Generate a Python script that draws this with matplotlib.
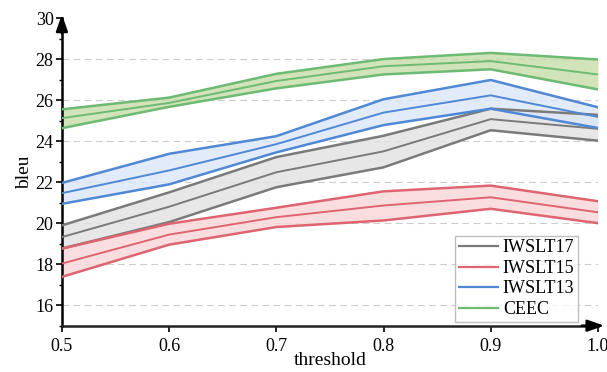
import matplotlib
matplotlib.use("Agg")
import matplotlib.pyplot as plt
from matplotlib.ticker import MultipleLocator

plt.rcParams['font.family'] = ['Liberation Serif', 'DejaVu Serif']

thresholds = [0.5, 0.6, 0.7, 0.8, 0.9, 1.0]

iwslt17_mean = [19.32, 20.80, 22.48, 23.50, 25.07, 24.60]
iwslt17_up = [19.89, 21.50, 23.22, 24.26, 25.58, 25.28]
iwslt17_low = [18.76, 20.05, 21.75, 22.72, 24.53, 24.02]

iwslt15_mean = [18.03, 19.44, 20.29, 20.86, 21.26, 20.53]
iwslt15_up = [18.76, 19.97, 20.75, 21.55, 21.83, 21.07]
iwslt15_low = [17.38, 18.95, 19.81, 20.13, 20.70, 20.00]

iwslt13_mean = [21.46, 22.57, 23.85, 25.39, 26.23, 25.18]
iwslt13_up = [21.96, 23.38, 24.24, 26.04, 26.98, 25.65]
iwslt13_low = [20.94, 21.89, 23.45, 24.78, 25.58, 24.64]

ceec_mean = [25.12, 25.86, 26.93, 27.65, 27.90, 27.25]
ceec_up = [25.55, 26.12, 27.28, 28.00, 28.30, 27.98]
ceec_low = [24.63, 25.67, 26.57, 27.25, 27.50, 26.52]

labels = ["IWSLT17", "IWSLT15", "IWSLT13", "CEEC"]

series = [
    (labels[0], iwslt17_mean, iwslt17_up, iwslt17_low, "#7a7a7a", "#e2e2e2"),
    (labels[1], iwslt15_mean, iwslt15_up, iwslt15_low, "#dd6470", "#f9d6d8"),
    (labels[2], iwslt13_mean, iwslt13_up, iwslt13_low, "#4f88d4", "#dbe7f8"),
    (labels[3], ceec_mean, ceec_up, ceec_low, "#6dba72", "#c6dca6"),
]

fig = plt.figure(figsize=(6.07, 3.72), dpi=100)
ax = fig.add_axes([0.102, 0.1245, 0.883, 0.827])

handles = []
for name, m, up, low, lc, fc in series:
    ax.fill_between(thresholds, low, up, color=fc, alpha=0.8, lw=0, zorder=2)
    ax.plot(thresholds, up, color=lc, lw=1.8, zorder=3)
    ax.plot(thresholds, low, color=lc, lw=1.8, zorder=3)
    h, = ax.plot(thresholds, m, color=lc, lw=1.4, zorder=3, label=name)
    handles.append(h)

ax.set_xlim(0.5, 1.0)
ax.set_ylim(15, 30)
ax.set_xticks(thresholds)
ax.set_xticklabels(["0.5", "0.6", "0.7", "0.8", "0.9", "1.0"])
ax.set_yticks([16, 18, 20, 22, 24, 26, 28, 30])
ax.yaxis.set_minor_locator(MultipleLocator(1))
ax.tick_params(axis='both', labelsize=13, direction='out', width=1.2, length=4, colors='black')
ax.tick_params(axis='y', which='minor', length=2.5, width=1.0)
ax.tick_params(axis='y', pad=2)
ax.tick_params(axis='x', length=4, pad=5)

for yv in [16, 18, 20, 22, 24, 26, 28]:
    ax.axhline(yv, color='#cccccc', lw=0.8, ls=(0, (6, 4)), zorder=1)

for s in ['top', 'right']:
    ax.spines[s].set_visible(False)
ax.spines['left'].set_linewidth(1.8)
ax.spines['bottom'].set_linewidth(1.8)
ax.spines['bottom'].set_color('#222222')

ax.annotate('', xy=(0, 1.012), xytext=(0, 0.95), xycoords='axes fraction',
            arrowprops=dict(arrowstyle='-|>,head_length=1.0,head_width=0.35',
                            color='black', lw=1.8, shrinkA=0, shrinkB=0), annotation_clip=False)
ax.annotate('', xy=(1.012, 0), xytext=(0.97, 0), xycoords='axes fraction',
            arrowprops=dict(arrowstyle='-|>,head_length=1.0,head_width=0.35',
                            color='black', lw=1.8, shrinkA=0, shrinkB=0), annotation_clip=False)

ax.set_xlabel("threshold", fontsize=14, labelpad=-2)
ax.set_ylabel("bleu", fontsize=14, labelpad=2)

leg = ax.legend(handles=handles, labels=labels, loc='lower right', bbox_to_anchor=(0.963, 0.013),
                fontsize=13, frameon=True, fancybox=False, edgecolor='#b0b0b0',
                handlelength=2.2, labelspacing=0.2, borderpad=0.2, handletextpad=0.25,
                borderaxespad=0.0)
leg.get_frame().set_linewidth(1.0)
for lh in leg.get_lines():
    lh.set_linewidth(1.6)

fig.savefig("out.png", dpi=100)
